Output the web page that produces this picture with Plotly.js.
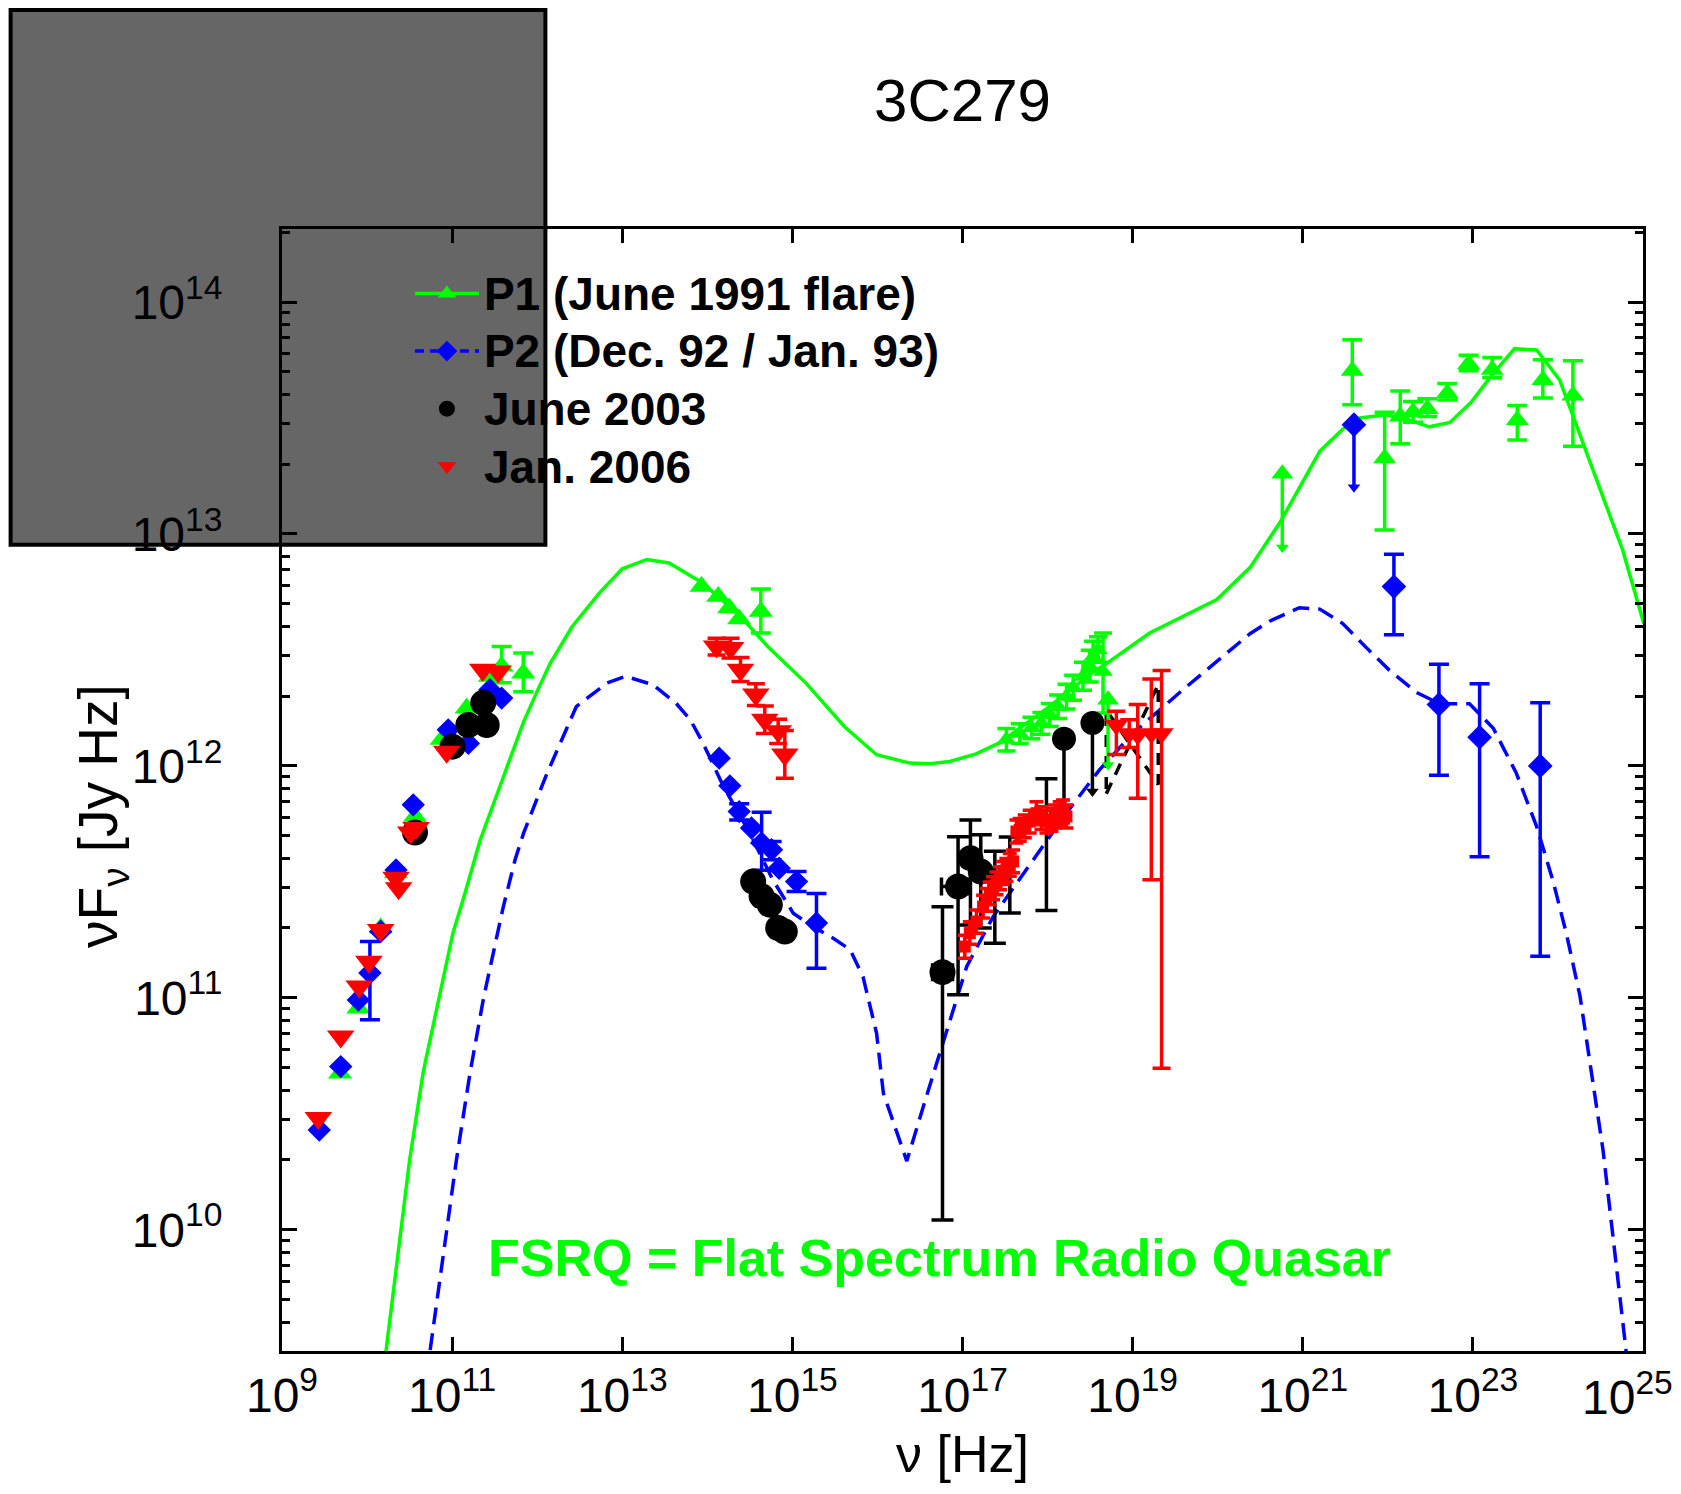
<!DOCTYPE html>
<html>
<head>
<meta charset="utf-8">
<script src="https://cdn.plot.ly/plotly-3.0.1.min.js"></script>
<style>
html,body{margin:0;padding:0;background:#ffffff;}
#chart{width:1681px;height:1494px;}
</style>
</head>
<body>
<div id="chart"></div>
<script>
// ---------------- DATA (nu in Hz, nuFnu in Jy Hz) ----------------
// Model curves
const p1ModelNu = [1.549e10, 3.162e10, 4.571e10, 6.607e10, 1.023e11, 1.413e11, 2.138e11, 3.631e11, 6.918e11, 1.023e12, 1.413e12, 2.570e12, 5.370e12, 1e13, 1.950e13, 3.548e13, 8.710e13, 2.455e14, 5.129e14, 1.445e15, 4.074e15, 9.772e15, 2.399e16, 4.169e16, 7.079e16, 1.445e17, 2.754e17, 1e18, 3.715e18, 4.467e18, 1.585e19, 9.772e19, 2.399e20, 5.370e20, 9.120e20, 1.585e21, 2.951e21, 4.677e21, 9.550e21, 1.660e22, 3.090e22, 5.370e22, 9.550e22, 1.585e23, 3.090e23, 5.623e23, 1.047e24, 3.090e24, 5.754e24, 1.023e25];
const p1ModelFlux = [2.399e9, 1.995e10, 4.786e10, 9.120e10, 1.905e11, 2.818e11, 4.786e11, 8.128e11, 1.549e12, 2.138e12, 2.754e12, 3.981e12, 5.559e12, 7.079e12, 7.762e12, 7.499e12, 6.166e12, 4.416e12, 3.273e12, 2.275e12, 1.479e12, 1.117e12, 1.028e12, 1.021e12, 1.045e12, 1.127e12, 1.259e12, 1.778e12, 2.600e12, 2.692e12, 3.741e12, 5.212e12, 7.161e12, 1.117e13, 1.592e13, 2.270e13, 2.831e13, 3.162e13, 3.266e13, 3.126e13, 2.897e13, 3.027e13, 3.698e13, 4.721e13, 6.295e13, 6.209e13, 4.613e13, 1.592e13, 8.551e12, 4.111e12];

const p2ModelNu = [5.012e10, 1.122e11, 1.622e11, 2.344e11, 3.981e11, 5.495e11, 6.918e11, 1.259e12, 2.884e12, 6.607e12, 1.096e13, 2.291e13, 4.266e13, 6.310e13, 8.913e13, 1.549e14, 3.162e14, 5.888e14, 1.023e15, 1.738e15, 3.020e15, 4.786e15, 6.761e15, 9.772e15, 1.175e16, 2.213e16, 3.758e16, 6.457e16, 1.122e17, 2.291e17, 6.761e17, 1.660e18, 4.074e18, 1.012e19, 3.890e19, 2.399e20, 4.074e20, 9.120e20, 1.585e21, 2.951e21, 5.623e21, 1.047e22, 2.188e22, 4.074e22, 9.120e22, 1.738e23, 3.236e23, 5.623e23, 8.710e23, 1.259e24, 1.820e24, 3.388e24, 6.310e24, 6.761e24];
const p2ModelFlux = [2.344e9, 1.995e10, 4.732e10, 1e11, 2.455e11, 3.936e11, 5.129e11, 8.995e11, 1.803e12, 2.275e12, 2.432e12, 2.239e12, 1.866e12, 1.581e12, 1.253e12, 8.147e11, 5.129e11, 3.228e11, 2.317e11, 2.028e11, 1.807e11, 1.611e11, 1.233e11, 7.031e10, 3.873e10, 1.977e10, 3.750e10, 7.031e10, 1.365e11, 2.239e11, 3.936e11, 6.252e11, 9.616e11, 1.384e12, 2.128e12, 3.715e12, 4.207e12, 4.808e12, 4.742e12, 4.111e12, 3.228e12, 2.582e12, 2.070e12, 1.854e12, 1.854e12, 1.452e12, 9.311e11, 5.470e11, 3.214e11, 1.888e11, 1.014e11, 2.208e10, 3.034e9, 2.399e9];

// P1 (June 1991 flare) data
const p1LowNu   = [4.81e9, 7.89e9, 1.445e10, 2.19e10, 3.66e10, 7.53e10, 1.48e11, 2.78e11, 3.82e11, 6.86e11, 8.55e13, 1.343e14, 1.807e14, 2.366e14, 4.26e14];
const p1LowFlux = [4.73e10, 9.02e10, 2.0e11, 3.45e11, 6.05e11, 1.30e12, 1.77e12, 2.43e12, 2.69e12, 2.51e12, 5.94e12, 5.38e12, 4.80e12, 4.30e12, 4.63e12];
const p1LowHi   = [null, null, null, null, null, null, null, null, 3.27e12, 3.07e12, null, null, null, null, 5.79e12];
const p1LowLo   = [null, null, null, null, null, null, null, null, 2.28e12, 2.09e12, null, null, null, null, 3.74e12];

const p1XrayNu   = [3.28e17, 4.71e17, 6.47e17, 8.47e17, 1.06e18, 1.33e18, 1.67e18, 2.0e18, 2.61e18, 3.13e18, 3.43e18, 3.92e18, 4.49e18];
const p1XrayFlux = [1.30e12, 1.38e12, 1.46e12, 1.53e12, 1.66e12, 1.80e12, 1.99e12, 2.17e12, 2.43e12, 2.69e12, 2.96e12, 3.17e12, 2.55e12];
const p1XrayHi   = [1.45e12, 1.52e12, 1.62e12, 1.70e12, 1.86e12, 2.02e12, 2.25e12, 2.46e12, 2.80e12, 3.15e12, 3.45e12, 3.60e12, 3.74e12];
const p1XrayLo   = [1.16e12, 1.25e12, 1.31e12, 1.37e12, 1.48e12, 1.60e12, 1.76e12, 1.92e12, 2.12e12, 2.30e12, 2.55e12, 2.80e12, 1.69e12];

const p1GammaNu   = [3.82e21, 9.18e21, 1.40e22, 1.98e22, 2.91e22, 5.0e22, 8.91e22, 1.69e23, 3.33e23, 6.65e23, 1.50e24];
const p1GammaFlux = [5.05e13, 2.12e13, 3.21e13, 3.36e13, 3.46e13, 4.04e13, 5.40e13, 5.11e13, 3.10e13, 4.61e13, 3.95e13];
const p1GammaHi   = [6.87e13, 3.35e13, 4.13e13, 3.73e13, 3.83e13, 4.46e13, 5.89e13, 5.77e13, 3.58e13, 5.64e13, 5.58e13];
const p1GammaLo   = [3.61e13, 1.04e13, 2.45e13, 3.03e13, 3.21e13, 3.78e13, 5.05e13, 4.72e13, 2.54e13, 3.86e13, 2.39e13];

const p1LimitNu   = [5.14e18, 5.75e20];
const p1LimitFlux = [1.93e12, 1.82e13];
const p1LimitTip  = [1.01e12, 8.75e12];

// P2 (Dec. 92 / Jan. 93) data
const p2LowNu   = [2.74e9, 4.90e9, 7.89e9, 1.08e10, 1.445e10, 2.19e10, 3.49e10, 9.0e10, 1.55e11, 2.78e11, 3.82e11, 1.38e14, 1.84e14, 2.37e14, 3.31e14, 4.35e14, 5.69e14, 7.0e14, 1.12e15, 1.92e15];
const p2LowFlux = [2.69e10, 5.05e10, 9.79e10, 1.28e11, 1.93e11, 3.56e11, 6.79e11, 1.43e12, 1.25e12, 2.13e12, 1.96e12, 1.08e12, 8.20e11, 6.35e11, 5.40e11, 4.65e11, 4.35e11, 3.62e11, 3.17e11, 2.10e11];
const p2LowHi   = [null, null, null, 1.75e11, null, null, null, null, null, null, null, null, null, 6.86e11, null, 6.31e11, 4.72e11, null, 3.50e11, 2.82e11];
const p2LowLo   = [null, null, null, 8.04e10, null, null, null, null, null, null, null, null, null, 5.85e11, null, 3.55e11, 3.94e11, null, 2.87e11, 1.34e11];

const p2GammaNu   = [1.18e22, 3.99e22, 1.20e23, 6.19e23];
const p2GammaFlux = [5.93e12, 1.84e12, 1.33e12, 1.00e12];
const p2GammaHi   = [8.18e12, 2.74e12, 2.26e12, 1.87e12];
const p2GammaLo   = [3.68e12, 9.12e11, 4.06e11, 1.51e11];

const p2LimitNu   = [4.0e21];
const p2LimitFlux = [2.96e13];
const p2LimitTip  = [1.59e13];

// June 2003 data
const jun03Nu   = [3.66e10, 1.01e11, 1.55e11, 2.32e11, 2.55e11, 3.46e14, 4.35e14, 5.43e14, 6.81e14, 8.15e14, 5.82e16, 8.87e16, 1.24e17, 1.64e17];
const jun03Flux = [5.16e11, 1.21e12, 1.50e12, 1.87e12, 1.50e12, 3.17e11, 2.74e11, 2.52e11, 2.00e11, 1.93e11, 1.29e11, 3.02e11, 4.00e11, 3.50e11];
const jun03Hi   = [null, null, null, null, null, null, null, null, null, null, 2.47e11, 4.95e11, 5.85e11, 5.05e11];
const jun03Lo   = [null, null, null, null, null, null, null, null, null, null, 1.10e10, 1.03e11, 2.06e11, 2.0e11];
const jun03NuLo = [null, null, null, null, null, null, null, null, null, null, 4.45e16, 5.66e16, null, null];
const jun03NuHi = [null, null, null, null, null, null, null, null, null, null, 7.64e16, 1.16e17, null, null];

const jun03CoveredNu   = [2.40e17, 3.60e17, 9.70e17];
const jun03CoveredFlux = [3.12e11, 3.68e11, 5.48e11];
const jun03CoveredHi   = [4.28e11, 4.93e11, 8.79e11];
const jun03CoveredLo   = [1.72e11, 2.32e11, 2.38e11];

const jun03LimitNu   = [1.56e18, 3.37e18];
const jun03LimitFlux = [1.31e12, 1.53e12];
const jun03LimitTip  = [6.68e11, 7.76e11];

const jun03BowNu   = [4.9e18, 2.0e19, 2.0e19, 4.9e18, 4.9e18];
const jun03BowFlux = [7.59e11, 2.24e12, 8.32e11, 1.74e12, 7.59e11];

// Jan. 2006 data
const jan06Nu   = [2.67e9, 4.90e9, 8.09e9, 1.05e10, 1.445e10, 2.19e10, 2.35e10, 3.26e10, 3.76e10, 8.63e10, 2.29e11, 3.48e11, 1.285e14, 1.875e14, 2.455e14, 3.72e14, 4.74e14, 6.81e14, 8.15e14];
const jan06Flux = [3.03e10, 6.81e10, 1.12e11, 1.43e11, 1.96e11, 3.29e11, 2.97e11, 5.16e11, 5.40e11, 1.15e12, 2.60e12, 2.55e12, 3.27e12, 3.22e12, 2.60e12, 2.03e12, 1.58e12, 1.41e12, 1.12e12];
const jan06Hi   = [null, null, null, null, null, null, null, null, null, null, null, null, 3.55e12, 3.55e12, 2.93e12, 2.26e12, 1.81e12, 1.59e12, 1.42e12];
const jan06Lo   = [null, null, null, null, null, null, null, null, null, null, null, null, 3.01e12, 2.92e12, 2.31e12, 1.82e12, 1.38e12, 1.25e12, 8.85e11];

const jan06XrtNu   = [1.064e17, 1.219e17, 1.459e17, 1.746e17, 1.910e17, 2.089e17, 2.286e17, 2.512e17, 2.754e17, 3.0e17, 3.281e17, 3.597e17, 3.936e17, 4.305e17, 4.710e17, 5.395e17, 6.166e17, 7.413e17, 8.472e17, 9.705e17, 1.112e18, 1.216e18, 1.390e18, 1.521e18, 1.667e18];
const jan06XrtFlux = [1.663e11, 1.901e11, 2.133e11, 2.472e11, 2.642e11, 2.825e11, 2.972e11, 3.119e11, 3.273e11, 3.451e11, 3.565e11, 3.741e11, 3.873e11, 5.212e11, 5.297e11, 5.483e11, 5.754e11, 6.252e11, 5.957e11, 5.754e11, 5.848e11, 6.053e11, 6.252e11, 6.353e11, 6.053e11];
const jan06XrtHi   = [1.86e11, 2.13e11, 2.39e11, 2.77e11, 2.96e11, 3.16e11, 3.33e11, 3.49e11, 3.67e11, 3.87e11, 3.99e11, 4.19e11, 4.34e11, 5.84e11, 5.93e11, 6.14e11, 6.44e11, 7.00e11, 6.67e11, 6.44e11, 6.55e11, 6.78e11, 7.00e11, 7.12e11, 6.78e11];
const jan06XrtLo   = [1.48e11, 1.70e11, 1.90e11, 2.21e11, 2.36e11, 2.52e11, 2.65e11, 2.78e11, 2.92e11, 3.08e11, 3.18e11, 3.34e11, 3.46e11, 4.65e11, 4.73e11, 4.90e11, 5.14e11, 5.58e11, 5.32e11, 5.14e11, 5.22e11, 5.40e11, 5.58e11, 5.67e11, 5.40e11];

const jan06HardNu   = [6.44e18, 9.12e18, 1.148e19, 1.66e19, 2.19e19];
const jan06HardFlux = [1.50e12, 1.38e12, 1.36e12, 1.38e12, 1.38e12];
const jan06HardHi   = [1.72e12, 1.58e12, 1.84e12, 2.37e12, 2.58e12];
const jan06HardLo   = [1.12e12, 1.20e12, 7.26e11, 3.23e11, 4.97e10];

// Axis ticks and labels (the last x label, 10^25, is set as an edge label so it stays inside the page)
const xTickVals = [1e9, 1e11, 1e13, 1e15, 1e17, 1e19, 1e21, 1e23, 1e25];
const xTickText = ['10<sup>9</sup>', '10<sup>11</sup>', '10<sup>13</sup>', '10<sup>15</sup>', '10<sup>17</sup>', '10<sup>19</sup>', '10<sup>21</sup>', '10<sup>23</sup>', ''];
const xEdgeLabelExp = 25;
const xEdgeLabelText = '10<sup>25</sup>';
const yTickVals = [1e10, 1e11, 1e12, 1e13, 1e14];
const yTickText = ['10<sup>10</sup>', '10<sup>11</sup>', '10<sup>12</sup>', '10<sup>13</sup>', '10<sup>14</sup>'];
const seriesNames = ['P1 (June 1991 flare)', 'P2 (Dec. 92 / Jan. 93)', 'June 2003', 'Jan. 2006'];
const chartTitle = '3C279';
const xTitle = '\u03bd [Hz]';
const yTitle = '\u03bdF<sub>\u03bd</sub> [Jy Hz]';
const noteText = '<b>FSRQ = Flat Spectrum Radio Quasar</b>';

// ---------------- STYLE / BUILD ----------------
const GREEN = '#00ff00', BLUE = '#0000ff', BLACK = '#000000', RED = '#ff0000';
const ERR_T = 3.5;

function errY(y, hi, lo, color, w) {
  return {
    type: 'data', symmetric: false, visible: true,
    array: y.map((v, i) => hi[i] == null ? NaN : hi[i] - v),
    arrayminus: y.map((v, i) => lo[i] == null ? NaN : v - lo[i]),
    color: color, thickness: ERR_T, width: w
  };
}
function errX(x, hi, lo, color, w) {
  return {
    type: 'data', symmetric: false, visible: true,
    array: x.map((v, i) => hi[i] == null ? NaN : hi[i] - v),
    arrayminus: x.map((v, i) => lo[i] == null ? NaN : v - lo[i]),
    color: color, thickness: ERR_T, width: w
  };
}
function pts(x, y, hi, lo, symbol, size, color, capw) {
  const t = {x: x, y: y, mode: 'markers', showlegend: false, hoverinfo: 'skip',
    marker: {symbol: symbol, size: size, color: color, line: {width: 0}}};
  if (hi) t.error_y = errY(y, hi, lo, color, capw);
  return t;
}
function limitLines(x, y, tip, color) {
  return {x: x, y: y, mode: 'markers', showlegend: false, hoverinfo: 'skip',
    marker: {size: 1, opacity: 0, color: color},
    error_y: {type: 'data', symmetric: false, array: y.map(() => 0),
      arrayminus: y.map((v, i) => v - tip[i]), color: color, thickness: ERR_T, width: 0}};
}
function limitHeads(x, tip, color) {
  return {x: x, y: tip, mode: 'markers', showlegend: false, hoverinfo: 'skip',
    marker: {symbol: 'triangle-down', size: 11, color: color}};
}

const traces = [];
// models
traces.push({x: p1ModelNu, y: p1ModelFlux, mode: 'lines', showlegend: false, hoverinfo: 'skip',
  line: {color: GREEN, width: 3.5}});
traces.push({x: p2ModelNu, y: p2ModelFlux, mode: 'lines', showlegend: false, hoverinfo: 'skip',
  line: {color: BLUE, width: 3.5, dash: '17px,9px'}});
traces.push({x: jun03BowNu, y: jun03BowFlux, mode: 'lines', showlegend: false, hoverinfo: 'skip',
  line: {color: BLACK, width: 3.5, dash: '12px,9px'}});

// P1 data
traces.push(pts(p1LowNu, p1LowFlux, p1LowHi, p1LowLo, 'triangle-up', 21, GREEN, 10));
traces.push(pts(p1XrayNu, p1XrayFlux, p1XrayHi, p1XrayLo, 'triangle-up', 17, GREEN, 9));
traces.push(pts(p1GammaNu, p1GammaFlux, p1GammaHi, p1GammaLo, 'triangle-up', 20, GREEN, 10));
traces.push(limitLines(p1LimitNu, p1LimitFlux, p1LimitTip, GREEN));
traces.push(limitHeads(p1LimitNu, p1LimitTip, GREEN));
traces.push(pts(p1LimitNu, p1LimitFlux, null, null, 'triangle-up', 19, GREEN, 0));

// P2 data
traces.push(pts(p2LowNu, p2LowFlux, p2LowHi, p2LowLo, 'diamond', 18, BLUE, 10));
traces.push(pts(p2GammaNu, p2GammaFlux, p2GammaHi, p2GammaLo, 'diamond', 19, BLUE, 10));
traces.push(limitLines(p2LimitNu, p2LimitFlux, p2LimitTip, BLUE));
traces.push(limitHeads(p2LimitNu, p2LimitTip, BLUE));
traces.push(pts(p2LimitNu, p2LimitFlux, null, null, 'diamond', 19, BLUE, 0));

// June 2003 data
const hidden = pts(jun03CoveredNu, jun03CoveredFlux, jun03CoveredHi, jun03CoveredLo, 'circle', 1, BLACK, 11);
hidden.marker.opacity = 0;
traces.push(hidden);
const j03 = pts(jun03Nu, jun03Flux, jun03Hi, jun03Lo, 'circle', 26, BLACK, 11);
j03.error_x = errX(jun03Nu, jun03NuHi, jun03NuLo, BLACK, 9);
traces.push(j03);
traces.push(limitLines(jun03LimitNu, jun03LimitFlux, jun03LimitTip, BLACK));
traces.push(limitHeads(jun03LimitNu, jun03LimitTip, BLACK));
traces.push(pts(jun03LimitNu, jun03LimitFlux, null, null, 'circle', 24, BLACK, 0));

// Jan. 2006 data
traces.push(pts(jan06Nu, jan06Flux, jan06Hi, jan06Lo, 'triangle-down', 24, RED, 9));
traces.push(pts(jan06XrtNu, jan06XrtFlux, jan06XrtHi, jan06XrtLo, 'square', 12, RED, 7));
traces.push(pts(jan06HardNu, jan06HardFlux, jan06HardHi, jan06HardLo, 'triangle-down', 21, RED, 9));

// legend entries
const LG = (s) => '<span style="font-size:46px;font-weight:bold">' + s + '</span>';
traces.push({x: [null], y: [null], mode: 'lines+markers', name: LG(seriesNames[0]), showlegend: true,
  line: {color: GREEN, width: 3.5}, marker: {symbol: 'triangle-up', size: 16, color: GREEN}});
traces.push({x: [null], y: [null], mode: 'lines+markers', name: LG(seriesNames[1]), showlegend: true,
  line: {color: BLUE, width: 3.5, dash: '9px,6px'}, marker: {symbol: 'diamond', size: 16, color: BLUE}});
traces.push({x: [null], y: [null], mode: 'markers', name: LG(seriesNames[2]), showlegend: true,
  marker: {symbol: 'circle', size: 16, color: BLACK}});
traces.push({x: [null], y: [null], mode: 'markers', name: LG(seriesNames[3]), showlegend: true,
  marker: {symbol: 'triangle-down', size: 16, color: RED}});

const yMinor = [];
for (let e = 9; e <= 14; e++) for (let m = 2; m <= 9; m++) yMinor.push(m * Math.pow(10, e));

const FONT = 'Liberation Sans, Arial, Helvetica, sans-serif';
const layout = {
  width: 1681, height: 1494,
  margin: {l: 282, r: 37.5, t: 229.4, b: 143, pad: 0},
  paper_bgcolor: '#ffffff', plot_bgcolor: 'rgba(0,0,0,0)',
  font: {family: FONT, color: BLACK},
  hovermode: false,
  title: {text: chartTitle, font: {size: 60, family: FONT, color: BLACK},
    x: 0.5, xref: 'paper', xanchor: 'center', y: 1 - 99.7 / 1494, yref: 'container', yanchor: 'middle'},
  xaxis: {
    type: 'log', range: [8.9999, 25.0001], tickmode: 'array', tickvals: xTickVals, ticktext: xTickText,
    ticks: 'inside', ticklen: 14, tickwidth: 3, tickcolor: BLACK,
    showline: true, linewidth: 3, linecolor: BLACK, mirror: 'allticks',
    showgrid: false, zeroline: false, tickfont: {size: 48, family: FONT, color: BLACK},
    ticklabelstandoff: 0,
    title: {text: xTitle, font: {size: 52, family: FONT, color: BLACK}, standoff: 16}
  },
  yaxis: {
    type: 'log', range: [9.477, 14.315], tickmode: 'array', tickvals: yTickVals, ticktext: yTickText,
    ticks: 'inside', ticklen: 15, tickwidth: 3, tickcolor: BLACK,
    minor: {tickmode: 'array', tickvals: yMinor, ticks: 'inside', ticklen: 8, tickwidth: 3, tickcolor: BLACK, showgrid: false},
    showline: true, linewidth: 3, linecolor: BLACK, mirror: 'allticks',
    showgrid: false, zeroline: false, tickfont: {size: 48, family: FONT, color: BLACK},
    ticklabelstandoff: 47, ticklabeloverflow: 'allow'
  },
  legend: {x: 0.094, xanchor: 'left', y: 0.9727, yanchor: 'top', bgcolor: 'rgba(0,0,0,0)',
    borderwidth: 0, font: {size: 42, family: FONT, color: BLACK}, itemwidth: 64, tracegroupgap: 0},
  shapes: [{type: 'rect', xref: 'paper', yref: 'paper', x0: -0.19941, x1: 0.19354, y0: 0.71862, y1: 1.19517,
    fillcolor: '#666666', line: {color: BLACK, width: 4}, layer: 'below'}],
  annotations: [
    {text: noteText, xref: 'paper', yref: 'paper', x: 0.1498, y: 0.0833, xanchor: 'left', yanchor: 'middle',
      showarrow: false, font: {size: 52, family: FONT, color: GREEN}},
    {text: yTitle, xref: 'paper', yref: 'paper', x: -0.1322, y: 0.477, xanchor: 'center', yanchor: 'middle',
      textangle: -90, showarrow: false, font: {size: 55, family: FONT, color: BLACK}},
    {text: xEdgeLabelText, xref: 'x', yref: 'paper', x: xEdgeLabelExp, y: -0.0383, xanchor: 'center', yanchor: 'middle',
      xshift: -15, showarrow: false, font: {size: 48, family: FONT, color: BLACK}}
  ]
};

Plotly.newPlot('chart', traces, layout, {staticPlot: true, displayModeBar: false});
</script>
</body>
</html>
